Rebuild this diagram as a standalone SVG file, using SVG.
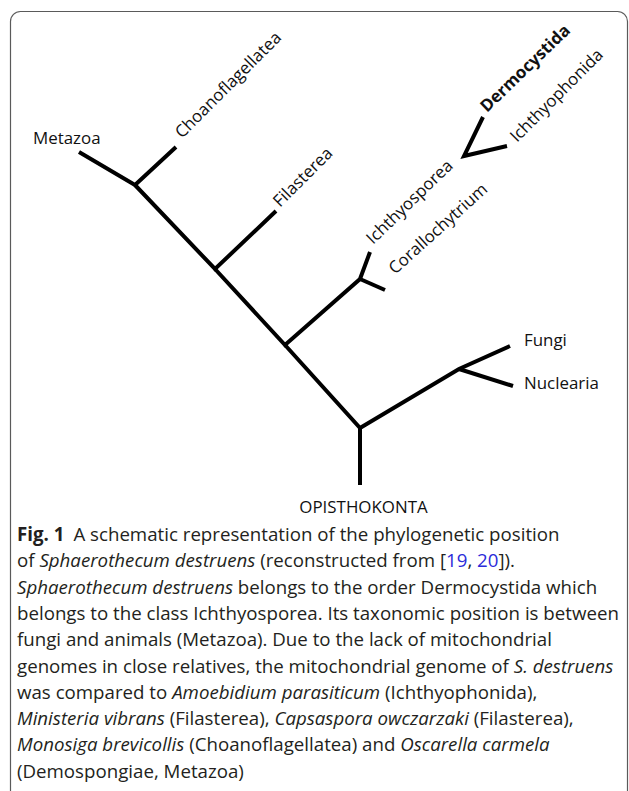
<svg xmlns="http://www.w3.org/2000/svg" width="629" height="791" viewBox="0 0 629 791">
<style>
.frame{fill:none;stroke:#5a5a5a;stroke-width:1.2}
.br{stroke:#000;stroke-width:4;fill:none;stroke-linecap:butt;stroke-linejoin:miter}
.lab{font-family:"Open Sans","Noto Sans",sans-serif;font-size:16.9px;fill:#111}
.bold{font-weight:bold}
.cap{font-family:"Open Sans","Noto Sans",sans-serif;font-size:18.7px;fill:#231f20}
.it{font-style:italic}
.ref{fill:#2b2bd9}
</style>
<rect class="frame" x="10.5" y="11.5" width="617" height="800" rx="10"/>
<g id="connectors">
<polyline class="br" points="79,152 135,185 176,147"/>
<polyline class="br" points="135,185 215,269 276,211"/>
<polyline class="br" points="215,269 285,345 360,279 370,252"/>
<line class="br" x1="360" y1="279" x2="385" y2="290"/>
<polyline class="br" points="285,345 360,428 360,485"/>
<polyline class="br" points="360,428 459,369 510,346"/>
<line class="br" x1="459" y1="369" x2="513" y2="386"/>
<polyline class="br" points="483,117 464,156 507,146"/>
</g>
<g id="metazoa"><text class="lab" x="33" y="144">Metazoa</text></g>
<g id="choanoflagellatea"><text class="lab" transform="translate(182,139) rotate(-45)">Choanoflagellatea</text></g>
<g id="filasterea"><text class="lab" transform="translate(280,208) rotate(-45)">Filasterea</text></g>
<g id="ichthyosporea"><text class="lab" transform="translate(373,245) rotate(-44)">Ichthyosporea</text></g>
<g id="corallochytrium"><text class="lab" transform="translate(395,275) rotate(-42)">Corallochytrium</text></g>
<g id="dermocystida"><text class="lab bold" transform="translate(487,113) rotate(-44)">Dermocystida</text></g>
<g id="ichthyophonida"><text class="lab" transform="translate(517,143) rotate(-45)">Ichthyophonida</text></g>
<g id="fungi"><text class="lab" x="524" y="346">Fungi</text></g>
<g id="nuclearia"><text class="lab" x="524" y="388.5">Nuclearia</text></g>
<g id="opisthokonta"><text class="lab" x="363.5" y="513" text-anchor="middle">OPISTHOKONTA</text></g>
<g id="caption">
<text class="cap" x="17" y="541"><tspan class="bold">Fig. 1</tspan><tspan dx="9">A schematic representation of the phylogenetic position</tspan></text>
<text class="cap" x="17" y="567.3">of <tspan class="it">Sphaerothecum destruens</tspan> (reconstructed from [<tspan class="ref">19</tspan>, <tspan class="ref">20</tspan>]).</text>
<text class="cap" x="17" y="593.6"><tspan class="it">Sphaerothecum destruens</tspan> belongs to the order Dermocystida which</text>
<text class="cap" x="17" y="619.9">belongs to the class Ichthyosporea. Its taxonomic position is between</text>
<text class="cap" x="17" y="646.2">fungi and animals (Metazoa). Due to the lack of mitochondrial</text>
<text class="cap" x="17" y="672.5">genomes in close relatives, the mitochondrial genome of <tspan class="it">S. destruens</tspan></text>
<text class="cap" x="17" y="698.8">was compared to <tspan class="it">Amoebidium parasiticum</tspan> (Ichthyophonida),</text>
<text class="cap" x="17" y="725.1"><tspan class="it">Ministeria vibrans</tspan> (Filasterea), <tspan class="it">Capsaspora owczarzaki</tspan> (Filasterea),</text>
<text class="cap" x="17" y="751.4"><tspan class="it">Monosiga brevicollis</tspan> (Choanoflagellatea) and <tspan class="it">Oscarella carmela</tspan></text>
<text class="cap" x="17" y="777.7">(Demospongiae, Metazoa)</text>
</g>
</svg>
